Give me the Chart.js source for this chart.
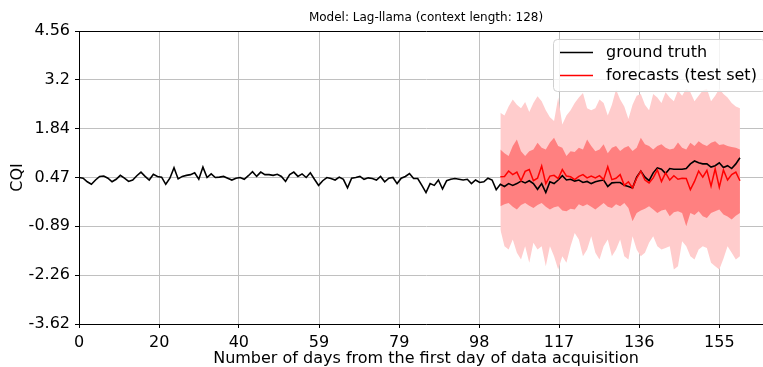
<!DOCTYPE html>
<html>
<head>
<meta charset="utf-8">
<script src="https://cdn.jsdelivr.net/npm/chart.js@4.4.1/dist/chart.umd.min.js"></script>
<style>
  html, body { margin: 0; padding: 0; background: #fff; overflow: hidden; }
  #wrap { width: 776px; height: 367px; position: relative; }
</style>
</head>
<body>
<div id="wrap"><canvas id="chart"></canvas></div>
<script>
// ground truth CQI, one value per day starting at day 0
const groundTruth = [
  0.47, 0.45, 0.35, 0.28, 0.40, 0.50, 0.51, 0.45, 0.35, 0.42,
  0.53, 0.45, 0.36, 0.40, 0.52, 0.62, 0.50, 0.40, 0.56, 0.50,
  0.48, 0.28, 0.45, 0.74, 0.43, 0.50, 0.53, 0.55, 0.60, 0.42,
  0.76, 0.47, 0.57, 0.47, 0.48, 0.50, 0.45, 0.40, 0.45, 0.47,
  0.42, 0.52, 0.63, 0.50, 0.62, 0.55, 0.55, 0.53, 0.56, 0.50,
  0.36, 0.55, 0.62, 0.50, 0.57, 0.47, 0.60, 0.42, 0.25, 0.38,
  0.47, 0.44, 0.40, 0.48, 0.42, 0.18, 0.45, 0.47, 0.50, 0.42,
  0.46, 0.44, 0.40, 0.50, 0.35, 0.45, 0.47, 0.30, 0.45, 0.50,
  0.58, 0.44, 0.44, 0.25, 0.05, 0.30, 0.25, 0.40, 0.15, 0.38,
  0.42, 0.44, 0.42, 0.40, 0.42, 0.30, 0.40, 0.33, 0.35, 0.45,
  0.40, 0.13, 0.28, 0.22, 0.30, 0.25, 0.30, 0.37, 0.32, 0.38,
  0.30, 0.14, 0.30, 0.05, 0.35, 0.30, 0.40, 0.52, 0.40, 0.42,
  0.37, 0.40, 0.33, 0.36, 0.30, 0.35, 0.38, 0.40, 0.22, 0.32,
  0.33, 0.33, 0.25, 0.22, 0.18, 0.48, 0.65, 0.48, 0.38, 0.60,
  0.74, 0.70, 0.58, 0.72, 0.70, 0.70, 0.70, 0.72, 0.85, 0.93,
  0.88, 0.85, 0.85, 0.76, 0.80, 0.88, 0.75, 0.80, 0.72, 0.85,
  1.02
];

// forecast over the test set starts at this day
const forecastStart = 102;

// median forecast
const forecastMedian = [
  0.49, 0.50, 0.65, 0.55, 0.62, 0.38, 0.64, 0.69, 0.38, 0.45,
  0.79, 0.30, 0.51, 0.53, 0.44, 0.69, 0.51, 0.49, 0.41, 0.50,
  0.55, 0.46, 0.51, 0.46, 0.52, 0.41, 0.77, 0.41, 0.45, 0.55,
  0.25, 0.35, 0.18, 0.45, 0.65, 0.40, 0.32, 0.46, 0.68, 0.36,
  0.60, 0.40, 0.52, 0.42, 0.45, 0.44, 0.13, 0.36, 0.65, 0.48,
  0.67, 0.23, 0.71, 0.20, 0.68, 0.40, 0.55, 0.62, 0.38
];

// wide prediction interval
const outerUpper = [
  2.28, 2.20, 2.45, 2.65, 2.50, 2.40, 2.58, 2.30, 2.55, 2.74,
  2.60, 2.35, 2.15, 2.05, 2.70, 1.95, 2.20, 2.35, 2.55, 2.70,
  2.83, 2.40, 2.35, 2.40, 2.65, 2.55, 2.20, 2.50, 2.93, 2.65,
  2.45, 2.10, 2.50, 2.75, 2.80, 2.50, 2.35, 2.80, 2.70, 2.55,
  2.85, 2.70, 2.60, 2.90, 2.75, 2.95, 2.85, 2.60, 2.75, 2.90,
  2.95, 2.60, 2.75, 2.95, 2.80, 2.70, 2.55, 2.45, 2.40
];
const outerLower = [
  -0.98, -1.45, -1.54, -1.26, -1.63, -1.82, -1.45, -1.91, -1.35, -1.54,
  -1.45, -2.01, -1.45, -1.73, -2.10, -1.73, -1.91, -1.45, -1.08, -1.26,
  -1.73, -1.54, -1.17, -1.63, -1.82, -1.45, -1.26, -1.73, -1.54, -1.26,
  -1.73, -1.82, -1.17, -1.54, -1.73, -1.63, -1.35, -1.17, -1.45, -1.54,
  -1.50, -1.45, -2.10, -2.01, -1.31, -1.45, -1.73, -1.82, -1.54, -1.45,
  -1.50, -1.91, -2.01, -2.10, -1.80, -1.45, -1.63, -1.82, -1.73
];

// narrow prediction interval
const innerUpper = [
  1.25, 1.15, 1.07, 1.35, 1.53, 1.20, 1.07, 1.20, 1.25, 1.44,
  1.30, 1.25, 1.45, 1.58, 1.35, 1.30, 1.07, 1.20, 1.18, 1.30,
  1.25, 1.53, 1.35, 1.20, 1.25, 1.40, 1.15, 1.30, 1.35, 1.21,
  1.30, 1.35, 1.21, 1.30, 1.58, 1.40, 1.35, 1.25, 1.35, 1.40,
  1.30, 1.25, 1.28, 1.45, 1.30, 1.25, 1.44, 1.35, 1.48, 1.40,
  1.35, 1.44, 1.48, 1.38, 1.40, 1.35, 1.32, 1.30, 1.25
];
const innerLower = [
  -0.33, -0.28, -0.24, -0.35, -0.42, -0.30, -0.24, -0.32, -0.38, -0.30,
  -0.24, -0.35, -0.42, -0.36, -0.33, -0.45, -0.47, -0.40, -0.42, -0.28,
  -0.33, -0.28, -0.35, -0.42, -0.33, -0.24, -0.35, -0.38, -0.28, -0.33,
  -0.24, -0.38, -0.75, -0.52, -0.45, -0.40, -0.33, -0.42, -0.52, -0.45,
  -0.42, -0.61, -0.50, -0.47, -0.52, -0.89, -0.52, -0.58, -0.47, -0.61,
  -0.66, -0.52, -0.47, -0.42, -0.56, -0.62, -0.70, -0.60, -0.52
];

// axis ticks
const xTickValues = [0, 19.4, 38.7, 58.1, 77.5, 96.9, 116.2, 135.6, 155];
const xTickLabels = ['0', '20', '40', '59', '79', '98', '117', '136', '155'];
const yTickValues = [-3.62, -2.257, -0.893, 0.47, 1.833, 3.197, 4.56];
const yTickLabels = ['-3.62', '-2.26', '-0.89', '0.47', '1.84', '3.2', '4.56'];

const FONT = "'DejaVu Sans', sans-serif";

const toPoints = (values, start) => values.map((v, i) => ({ x: start + i, y: v }));

const band = (values, color, fillTo, order) => ({
  data: toPoints(values, forecastStart),
  borderWidth: 0,
  pointRadius: 0,
  backgroundColor: color,
  fill: fillTo,
  order: order,
});

// matplotlib-style legend box in the upper right of the plot
const boxLegend = {
  id: 'boxLegend',
  afterDatasetsDraw(chart) {
    const { ctx, chartArea } = chart;
    const items = chart.data.datasets.filter(d => d.label);
    const x0 = chartArea.right - 220;
    const y0 = chartArea.top + 8.5;
    ctx.save();
    ctx.beginPath();
    ctx.roundRect(x0 + 0.5, y0, 212, 52, 4);
    ctx.fillStyle = 'rgba(255,255,255,0.8)';
    ctx.fill();
    ctx.strokeStyle = '#d0d0d0';
    ctx.lineWidth = 1;
    ctx.stroke();
    ctx.font = '16px ' + FONT;
    ctx.textBaseline = 'middle';
    items.forEach((d, i) => {
      const y = y0 + 13 + i * 23;
      ctx.beginPath();
      ctx.moveTo(x0 + 7, y);
      ctx.lineTo(x0 + 40, y);
      ctx.strokeStyle = d.borderColor;
      ctx.lineWidth = 1.6;
      ctx.stroke();
      ctx.fillStyle = '#000';
      ctx.fillText(d.label, x0 + 53, y);
    });
    ctx.restore();
  }
};

new Chart(document.getElementById('chart'), {
  type: 'line',
  data: {
    datasets: [
      {
        label: 'ground truth',
        data: toPoints(groundTruth, 0),
        borderColor: '#000000',
        borderWidth: 1.6,
        pointRadius: 0,
        fill: false,
        order: 1,
      },
      {
        label: 'forecasts (test set)',
        data: toPoints(forecastMedian, forecastStart),
        borderColor: '#ff0000',
        borderWidth: 1.5,
        pointRadius: 0,
        fill: false,
        order: 0,
      },
      band(innerUpper, 'rgb(255,128,128)', 3, 2),
      band(innerLower, 'rgba(0,0,0,0)', false, 3),
      band(outerUpper, 'rgb(255,204,204)', 5, 4),
      band(outerLower, 'rgba(0,0,0,0)', false, 5),
    ]
  },
  options: {
    responsive: true,
    maintainAspectRatio: false,
    animation: false,
    layout: { padding: { right: 3 } },
    elements: { line: { tension: 0 } },
    plugins: {
      legend: { display: false },
      tooltip: { enabled: false },
      title: {
        display: true,
        fullSize: false,
        text: 'Model: Lag-llama (context length: 128)',
        color: '#000',
        font: { family: FONT, size: 12, weight: 'normal', lineHeight: 1.2 },
        padding: { top: 11, bottom: 5.6 },
      },
    },
    scales: {
      x: {
        type: 'linear',
        min: 0,
        max: 168,
        afterBuildTicks: (scale) => { scale.ticks = xTickValues.map(v => ({ value: v })); },
        afterFit: (scale) => { scale.height = 43; },
        ticks: {
          autoSkip: false,
          maxRotation: 0,
          padding: 5,
          color: '#000',
          font: { family: FONT, size: 16 },
          callback: (value, index) => xTickLabels[index],
        },
        grid: { color: '#c0c0c0', lineWidth: 1, tickLength: 4, tickColor: '#000' },
        border: { display: true, color: '#000', width: 1 },
        title: {
          display: true,
          text: 'Number of days from the first day of data acquisition',
          color: '#000',
          font: { family: FONT, size: 16, lineHeight: 1 },
          padding: { top: 0, bottom: 0 },
        },
      },
      y: {
        min: -3.62,
        max: 4.56,
        afterBuildTicks: (scale) => { scale.ticks = yTickValues.map(v => ({ value: v })); },
        afterFit: (scale) => { scale.width = 79; },
        ticks: {
          autoSkip: false,
          padding: 5,
          color: '#000',
          font: { family: FONT, size: 16 },
          callback: (value, index) => yTickLabels[index],
        },
        grid: {
          color: (c) => c.index === yTickValues.length - 1 ? '#000' : '#c0c0c0',
          lineWidth: 1,
          tickLength: 4,
          tickColor: '#000',
        },
        border: { display: true, color: '#000', width: 1 },
        title: {
          display: true,
          text: 'CQI',
          color: '#000',
          font: { family: FONT, size: 16 },
          padding: { top: 8, bottom: 0 },
        },
      },
    },
  },
  plugins: [boxLegend],
});
</script>
</body>
</html>
